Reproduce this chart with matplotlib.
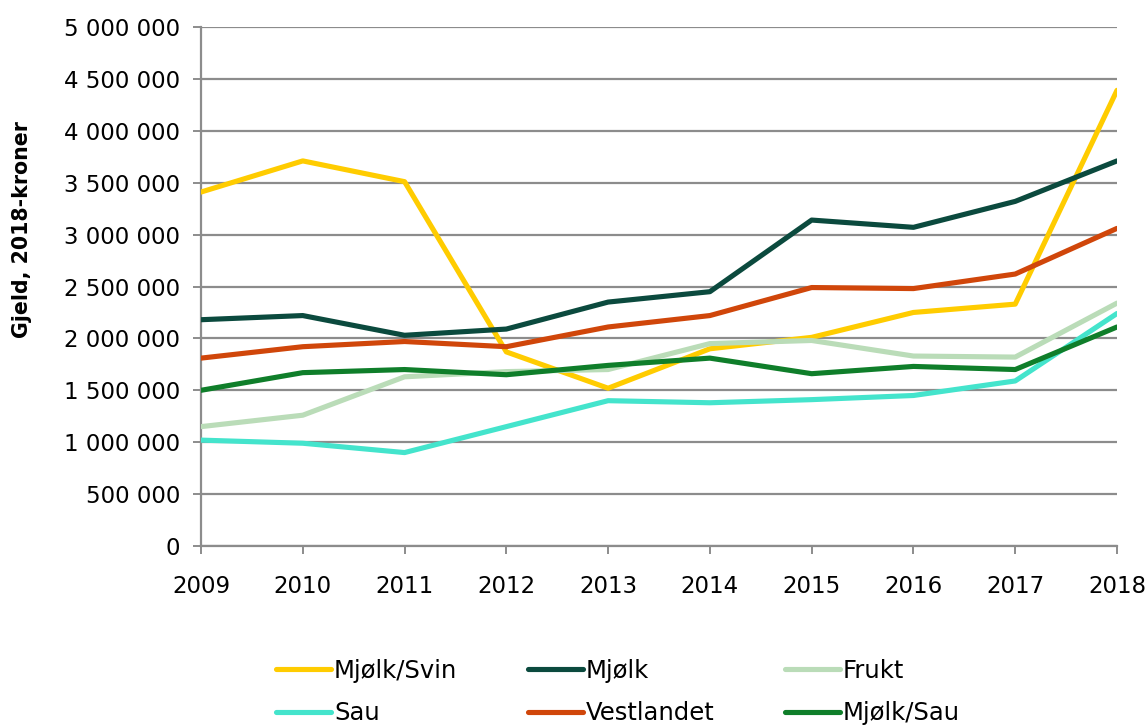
import numpy as np
import matplotlib
matplotlib.use('Agg')
import matplotlib.pyplot as plt
from matplotlib.ticker import FuncFormatter, MultipleLocator

years = [2009, 2010, 2011, 2012, 2013, 2014, 2015, 2016, 2017, 2018]

mjolk_svin = [3410000, 3710000, 3510000, 1870000, 1520000, 1900000, 2010000, 2250000, 2330000, 4390000]
mjolk      = [2180000, 2220000, 2030000, 2090000, 2350000, 2450000, 3140000, 3070000, 3320000, 3710000]
frukt      = [1150000, 1260000, 1630000, 1680000, 1700000, 1950000, 1980000, 1830000, 1820000, 2340000]
sau        = [1020000, 990000, 900000, 1150000, 1400000, 1380000, 1410000, 1450000, 1590000, 2240000]
vestlandet = [1810000, 1920000, 1970000, 1920000, 2110000, 2220000, 2490000, 2480000, 2620000, 3060000]
mjolk_sau  = [1500000, 1670000, 1700000, 1650000, 1740000, 1810000, 1660000, 1730000, 1700000, 2110000]

series = [
    ('Mjølk/Svin', mjolk_svin, '#FFCC00'),
    ('Mjølk', mjolk, '#0B4A3E'),
    ('Frukt', frukt, '#BADCB8'),
    ('Sau', sau, '#44E4CC'),
    ('Vestlandet', vestlandet, '#D0460A'),
    ('Mjølk/Sau', mjolk_sau, '#0F7E2A'),
]

plt.rcParams['font.family'] = ['DejaVu Sans']

fig = plt.figure(figsize=(11.48, 7.27), dpi=100)
ax = fig.add_axes([201/1148, 1 - 546/727, (1117-201)/1148, (546-27)/727])

grid_c = '#8C8C8C'
for name, vals, col in series:
    ax.plot(years, vals, color=col, lw=3.7, label=name, solid_capstyle='round', zorder=3)

ax.set_xlim(2009, 2018)
ax.set_ylim(0, 5000000)
ax.yaxis.set_major_locator(MultipleLocator(500000))
ax.set_xticks(years)
ax.yaxis.set_major_formatter(FuncFormatter(lambda v, p: f'{int(v):,}'.replace(',', ' ')))
ax.grid(axis='y', color=grid_c, lw=1.6, zorder=0)
ax.set_axisbelow(True)
for s in ['top', 'right']:
    ax.spines[s].set_visible(False)
for s in ['left', 'bottom']:
    ax.spines[s].set_color(grid_c)
    ax.spines[s].set_linewidth(1.6)
ax.tick_params(axis='y', length=6, width=1.4, color=grid_c, pad=9, labelsize=16.5, labelcolor='black')
ax.tick_params(axis='x', length=6, width=1.4, color=grid_c, pad=15, labelsize=16.5, labelcolor='black')

fig.text(22/1148, 1 - 230/727, 'Gjeld, 2018-kroner', rotation=90, ha='center', va='center',
         fontsize=14.8, fontweight='bold')

handles, labels = ax.get_legend_handles_labels()
order = [0, 3, 1, 4, 2, 5]
leg = fig.legend([handles[i] for i in order], [labels[i] for i in order],
                 loc='center', bbox_to_anchor=(618/1148, 1 - 692/727), ncol=3, frameon=False,
                 fontsize=17.5, handlelength=2.26, handletextpad=0.12, columnspacing=2.9,
                 labelspacing=0.75)

fig.savefig('out.png', dpi=100)
